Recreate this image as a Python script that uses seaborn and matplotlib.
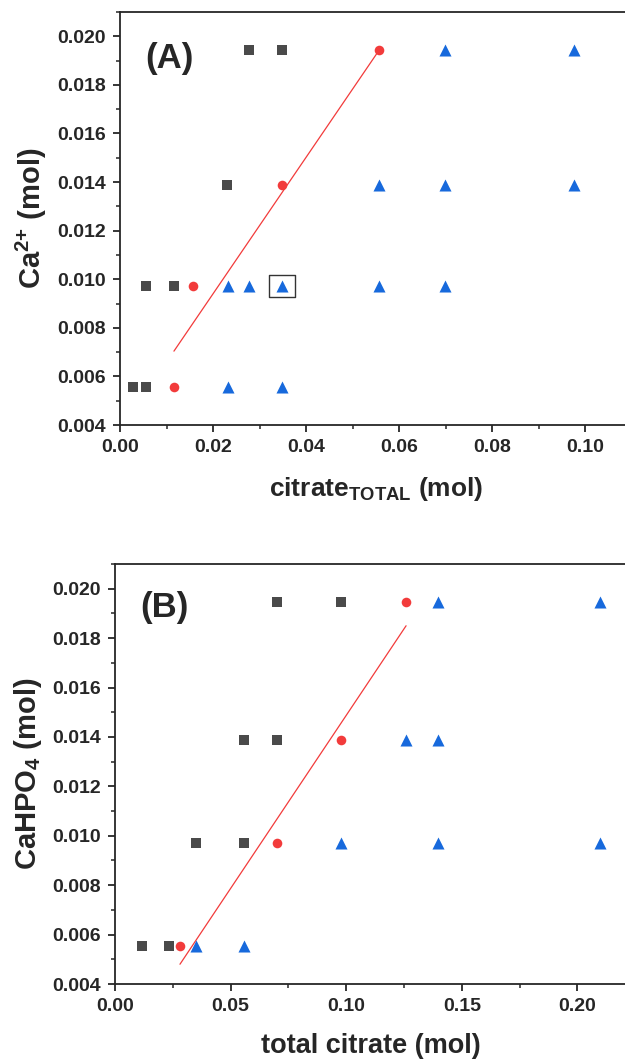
import matplotlib
matplotlib.use("Agg")
import matplotlib.pyplot as plt
from matplotlib.path import Path
from matplotlib.ticker import MultipleLocator, FormatStrFormatter
import seaborn as sns
import pandas as pd

# ---- panel A: Ca2+ vs total citrate ----
a_sq_x = [0.0028, 0.0056, 0.0056, 0.0116, 0.0230, 0.0278, 0.0348]
a_sq_y = [0.00555, 0.00555, 0.00972, 0.00972, 0.01388, 0.01945, 0.01945]
a_ci_x = [0.0116, 0.0156, 0.0348, 0.0558]
a_ci_y = [0.00555, 0.00972, 0.01388, 0.01945]
a_tr_x = [0.0233, 0.0348, 0.0233, 0.0278, 0.0348, 0.0558, 0.0698,
          0.0558, 0.0698, 0.0977, 0.0698, 0.0977]
a_tr_y = [0.00555, 0.00555, 0.00972, 0.00972, 0.00972, 0.00972, 0.00972,
          0.01388, 0.01388, 0.01388, 0.01945, 0.01945]
a_fit_x = [0.0116, 0.0558]
a_fit_y = [0.00704, 0.01945]
a_box = (0.0348, 0.00972)

# ---- panel B: CaHPO4 vs total citrate ----
b_sq_x = [0.0117, 0.0234, 0.0350, 0.0559, 0.0559, 0.0699, 0.0699, 0.0979]
b_sq_y = [0.00555, 0.00555, 0.00972, 0.00972, 0.01388, 0.01388, 0.01945, 0.01945]
b_ci_x = [0.0281, 0.0699, 0.0979, 0.1259]
b_ci_y = [0.00555, 0.00972, 0.01388, 0.01945]
b_tr_x = [0.0350, 0.0559, 0.0979, 0.1399, 0.2098, 0.1259, 0.1399, 0.1399, 0.2098]
b_tr_y = [0.00555, 0.00555, 0.00972, 0.00972, 0.00972, 0.01388, 0.01388,
          0.01945, 0.01945]
b_fit_x = [0.0281, 0.1259]
b_fit_y = [0.0048, 0.0185]

GRAY = "#4a4a4a"
RED = "#f23b3b"
BLUE = "#1769dc"

sns.set_style("ticks")
plt.rcParams["font.family"] = ["Liberation Sans", "DejaVu Sans"]
plt.rcParams["font.weight"] = "bold"
plt.rcParams["mathtext.fontset"] = "custom"
plt.rcParams["mathtext.rm"] = "Liberation Sans:bold"
plt.rcParams["mathtext.bf"] = "Liberation Sans:bold"
plt.rcParams["axes.linewidth"] = 1.3

fig = plt.figure(figsize=(6.25, 10.61), dpi=100)
W, H = 625.0, 1061.0

# axes placed in pixel units; right spine runs off the figure as in the source
axA = fig.add_axes([120 / W, 1 - 425 / H, 0.11 * 4650 / W, 413 / H])
axB = fig.add_axes([115 / W, 1 - 984 / H, 0.221 * 2312 / W, 420 / H])


def draw(ax, sq_x, sq_y, ci_x, ci_y, tr_x, tr_y, fit_x, fit_y):
    sns.scatterplot(data=pd.DataFrame({"x": sq_x, "y": sq_y}), x="x", y="y",
                    ax=ax, marker="s", s=45, color=GRAY, linewidth=0, zorder=3)
    sns.scatterplot(data=pd.DataFrame({"x": ci_x, "y": ci_y}), x="x", y="y",
                    ax=ax, marker="o", s=48, color=RED, linewidth=0, zorder=3)
    sns.scatterplot(data=pd.DataFrame({"x": tr_x, "y": tr_y}), x="x", y="y",
                    ax=ax, marker="^", s=75, color=BLUE, linewidth=0, zorder=3)
    sns.lineplot(x=fit_x, y=fit_y, ax=ax, color=RED, linewidth=0.9, zorder=2)
    ax.set_ylim(0.004, 0.021)
    ax.yaxis.set_major_locator(MultipleLocator(0.002))
    ax.yaxis.set_minor_locator(MultipleLocator(0.001))
    ax.yaxis.set_major_formatter(FormatStrFormatter("%.3f"))
    ax.tick_params(which="major", direction="out", length=5, width=1.3,
                   labelsize=14, pad=5)
    ax.tick_params(which="minor", direction="out", length=3, width=1.1)
    for lab in ax.get_xticklabels() + ax.get_yticklabels():
        lab.set_fontweight("bold")
    sns.despine(ax=ax, top=False, right=False)


draw(axA, a_sq_x, a_sq_y, a_ci_x, a_ci_y, a_tr_x, a_tr_y, a_fit_x, a_fit_y)
axA.set_xlim(0, 0.11)
axA.xaxis.set_major_locator(MultipleLocator(0.02))
axA.xaxis.set_minor_locator(MultipleLocator(0.01))
axA.xaxis.set_major_formatter(FormatStrFormatter("%.2f"))
box_marker = Path([(-1.15, -1), (1.15, -1), (1.15, 1), (-1.15, 1), (-1.15, -1)],
                  [Path.MOVETO, Path.LINETO, Path.LINETO, Path.LINETO, Path.CLOSEPOLY])
axA.plot([a_box[0]], [a_box[1]], marker=box_marker, markersize=19,
         markerfacecolor="none", markeredgecolor="#333333", markeredgewidth=1.0,
         linestyle="none", zorder=4)
axA.set_xlabel("citrate$_{\\bf TOTAL}$ (mol)", fontsize=19, fontweight="bold",
               labelpad=14)
axA.set_ylabel("Ca$^{\\bf 2{+}}$ (mol)", fontsize=21, fontweight="bold", labelpad=6)
axA.text(0.049, 0.927, "(A)", transform=axA.transAxes, fontsize=25,
         fontweight="bold", ha="left", va="top")

draw(axB, b_sq_x, b_sq_y, b_ci_x, b_ci_y, b_tr_x, b_tr_y, b_fit_x, b_fit_y)
axB.set_xlim(0, 0.221)
axB.xaxis.set_major_locator(MultipleLocator(0.05))
axB.xaxis.set_minor_locator(MultipleLocator(0.025))
axB.xaxis.set_major_formatter(FormatStrFormatter("%.2f"))
axB.set_xlabel("total citrate (mol)", fontsize=19.5, fontweight="bold", labelpad=13)
axB.set_ylabel("CaHPO$_{\\bf 4}$ (mol)", fontsize=21, fontweight="bold", labelpad=6)
axB.text(0.049, 0.935, "(B)", transform=axB.transAxes, fontsize=25,
         fontweight="bold", ha="left", va="top")

fig.savefig("out.png", dpi=100)
